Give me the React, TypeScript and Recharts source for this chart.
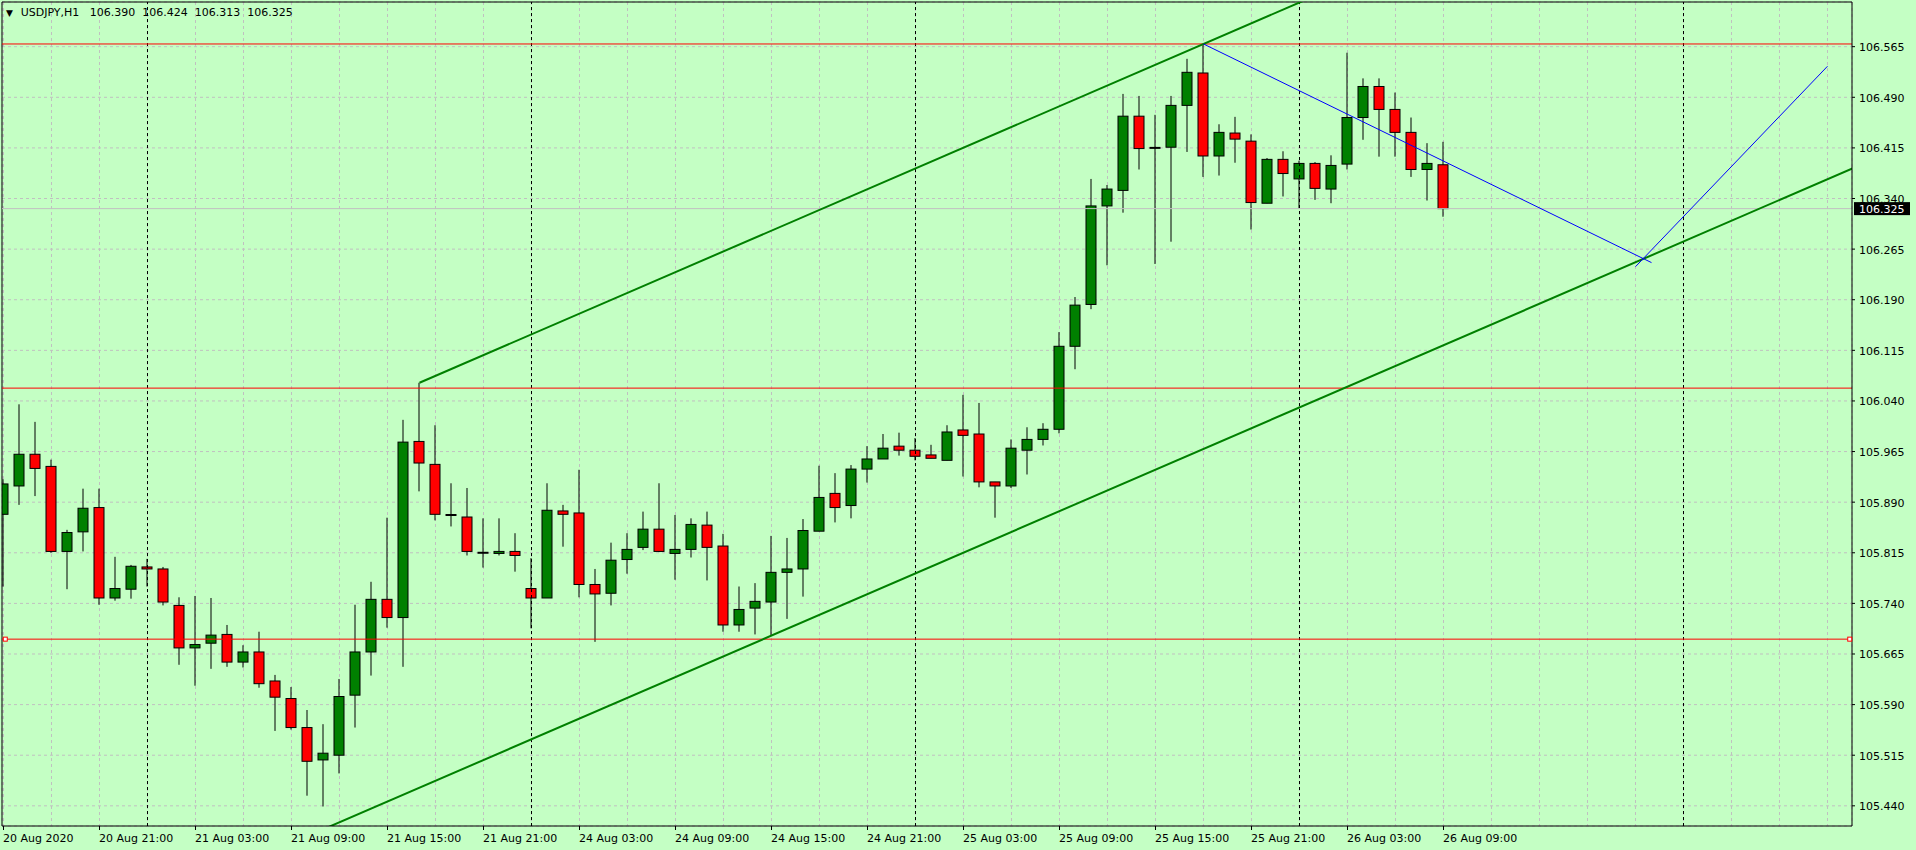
import { Bar, CartesianGrid, ComposedChart, ReferenceDot, ReferenceLine, XAxis, YAxis } from "recharts";

// USDJPY H1, bars 20 Aug 15:00 .. 26 Aug 09:00
const opens = [
  105.872, 105.914, 105.961, 105.943, 105.817, 105.846, 105.882, 105.748, 105.761, 105.794,
  105.791, 105.737, 105.674, 105.681, 105.694, 105.653, 105.668, 105.625, 105.599, 105.556,
  105.508, 105.515, 105.604, 105.668, 105.746, 105.719, 105.98, 105.946, 105.871, 105.868,
  105.815, 105.814, 105.817, 105.762, 105.748, 105.877, 105.874, 105.768, 105.755, 105.805,
  105.823, 105.85, 105.814, 105.82, 105.856, 105.825, 105.708, 105.733, 105.742, 105.786,
  105.791, 105.847, 105.903, 105.885, 105.939, 105.954, 105.973, 105.967, 105.96, 105.952,
  105.997, 105.991, 105.92, 105.914, 105.967, 105.983, 105.998, 106.121, 106.183, 106.329,
  106.352, 106.462, 106.415, 106.416, 106.478, 106.526, 106.403, 106.437, 106.425, 106.333,
  106.398, 106.369, 106.392, 106.354, 106.391, 106.46, 106.506, 106.472, 106.438, 106.383,
  106.39,
];
const highs = [
  105.924, 106.035, 106.009, 105.953, 105.849, 105.91, 105.91, 105.809, 105.797, 105.806,
  105.794, 105.749, 105.751, 105.748, 105.708, 105.678, 105.698, 105.634, 105.616, 105.582,
  105.561, 105.628, 105.738, 105.772, 105.867, 106.012, 106.067, 106.004, 105.918, 105.911,
  105.866, 105.866, 105.844, 105.807, 105.918, 105.886, 105.938, 105.791, 105.83, 105.844,
  105.876, 105.918, 105.871, 105.866, 105.876, 105.843, 105.765, 105.77, 105.84, 105.837,
  105.865, 105.944, 105.933, 105.945, 105.973, 105.991, 105.993, 105.985, 105.975, 106.004,
  106.049, 106.037, 105.92, 105.983, 106.001, 106.007, 106.142, 106.194, 106.369, 106.36,
  106.495, 106.492, 106.464, 106.492, 106.547, 106.569, 106.45, 106.461, 106.435, 106.4,
  106.41, 106.396, 106.394, 106.404, 106.556, 106.518, 106.518, 106.497, 106.46, 106.422,
  106.424,
];
const lows = [
  105.765, 105.886, 105.899, 105.815, 105.761, 105.817, 105.738, 105.744, 105.747, 105.765,
  105.737, 105.649, 105.618, 105.643, 105.646, 105.645, 105.615, 105.551, 105.553, 105.455,
  105.439, 105.488, 105.556, 105.633, 105.704, 105.646, 105.906, 105.863, 105.854, 105.811,
  105.793, 105.811, 105.787, 105.703, 105.748, 105.824, 105.749, 105.683, 105.737, 105.784,
  105.819, 105.816, 105.775, 105.808, 105.774, 105.698, 105.698, 105.694, 105.692, 105.717,
  105.75, 105.847, 105.86, 105.866, 105.919, 105.954, 105.959, 105.952, 105.955, 105.952,
  105.928, 105.912, 105.867, 105.911, 105.931, 105.974, 105.992, 106.087, 106.176, 106.241,
  106.319, 106.383, 106.243, 106.276, 106.409, 106.372, 106.374, 106.393, 106.294, 106.333,
  106.343, 106.325, 106.338, 106.333, 106.383, 106.427, 106.402, 106.402, 106.372, 106.337,
  106.313,
];
const closes = [
  105.917, 105.961, 105.94, 105.817, 105.845, 105.881, 105.748, 105.762, 105.795, 105.791,
  105.742, 105.674, 105.679, 105.693, 105.653, 105.668, 105.621, 105.601, 105.556, 105.506,
  105.518, 105.602, 105.668, 105.746, 105.719, 105.979, 105.948, 105.872, 105.871, 105.817,
  105.815, 105.817, 105.811, 105.748, 105.878, 105.872, 105.768, 105.754, 105.804, 105.82,
  105.85, 105.817, 105.82, 105.857, 105.823, 105.708, 105.731, 105.743, 105.786, 105.791,
  105.848, 105.897, 105.882, 105.939, 105.954, 105.97, 105.967, 105.958, 105.955, 105.994,
  105.989, 105.92, 105.914, 105.97, 105.983, 105.998, 106.121, 106.182, 106.329, 106.354,
  106.462, 106.414, 106.415, 106.478, 106.527, 106.403, 106.438, 106.428, 106.334, 106.398,
  106.377, 106.392, 106.355, 106.389, 106.46, 106.506, 106.472, 106.438, 106.383, 106.392,
  106.325,
];

const timeTickBars = [0, 6, 12, 18, 24, 30, 36, 42, 48, 54, 60, 66, 72, 78, 84, 90];
const timeTickLabels = [
  "20 Aug 2020", "20 Aug 21:00", "21 Aug 03:00", "21 Aug 09:00", "21 Aug 15:00", "21 Aug 21:00",
  "24 Aug 03:00", "24 Aug 09:00", "24 Aug 15:00", "24 Aug 21:00", "25 Aug 03:00", "25 Aug 09:00",
  "25 Aug 15:00", "25 Aug 21:00", "26 Aug 03:00", "26 Aug 09:00",
];
const gridBars = [
  0, 3, 6, 9, 12, 15, 18, 21, 24, 27, 30, 33, 36, 39, 42, 45, 48, 51, 54, 57,
  60, 63, 66, 69, 72, 75, 78, 81, 84, 87, 90, 93, 96, 99, 102, 105, 108, 111, 114,
];
const daySeparators = [9, 33, 57, 81, 105];
const priceTicks = [
  105.44, 105.515, 105.59, 105.665, 105.74, 105.815, 105.89, 105.965,
  106.04, 106.115, 106.19, 106.265, 106.34, 106.415, 106.49, 106.565,
];

const levelLines = [106.569, 106.059, 105.687];
const selectedLevel = 105.687;
const selectedLevelHandles = [0.11, 115.39];
const channelLines = [
  [{ x: 26, y: 106.067 }, { x: 120, y: 107.03 }],
  [{ x: -2, y: 105.18 }, { x: 120, y: 106.43 }],
];
const blueLines = [
  [{ x: 75, y: 106.569 }, { x: 103, y: 106.245 }],
  [{ x: 102, y: 106.239 }, { x: 114, y: 106.536 }],
];
const bidPrice = 106.325;
const symbolTitle = "USDJPY,H1";
const titleQuotes = ["106.390", "106.424", "106.313", "106.325"];

const X_DOMAIN: [number, number] = [-0.09375, 115.53125];
const Y_DOMAIN: [number, number] = [105.4101, 106.6312];

const BG = "#C4FFC4";
const BULL = "#008000";
const BEAR = "#FF0000";
const GRID = "#C0C0C0";
const FONT = "DejaVu Sans";

const data = opens.map((open, i) => ({ i, open, high: highs[i], low: lows[i], close: closes[i] }));

function Candle(props: any) {
  const { x, y, width, height, payload } = props;
  if (x == null || y == null || !payload) return null;
  const cx = x + width / 2;
  const { open, high, low, close } = payload;
  const span = high - low || 1;
  const yAt = (p: number) => y + ((high - p) / span) * height;
  const top = yAt(Math.max(open, close));
  const bottom = yAt(Math.min(open, close));
  const wick = <line x1={cx} x2={cx} y1={y} y2={y + height} stroke="#000" strokeWidth={1} />;
  if (open === close) {
    return (
      <g>
        {wick}
        <line x1={cx - 5.5} x2={cx + 5.5} y1={top} y2={top} stroke="#000" strokeWidth={2} />
      </g>
    );
  }
  return (
    <g>
      {wick}
      <rect
        x={cx - 5}
        y={top}
        width={10}
        height={Math.max(bottom - top, 1)}
        fill={close > open ? BULL : BEAR}
        stroke="#000"
        strokeWidth={1}
      />
    </g>
  );
}

function TimeTick({ x, y, payload }: any) {
  const k = timeTickBars.indexOf(payload.value);
  if (k < 0) return <g />;
  return (
    <g>
      <line x1={x} x2={x} y1={y} y2={y + 4} stroke="#000" />
      <text x={x - 0.5} y={y + 16} fontSize={11} fontFamily={FONT} fill="#000">
        {timeTickLabels[k]}
      </text>
    </g>
  );
}

function PriceTick({ x, y, payload }: any) {
  return (
    <text x={x} y={y + 4.5} fontSize={11} fontFamily={FONT} fill="#000" textAnchor="start">
      {payload.value.toFixed(3)}
    </text>
  );
}

function BidLabel({ viewBox }: any) {
  if (!viewBox) return null;
  const left = viewBox.x + viewBox.width + 2;
  return (
    <g>
      <rect x={left} y={viewBox.y - 6.5} width={56} height={13} fill="#000" />
      <text x={left + 5} y={viewBox.y + 4.5} fontSize={11} fontFamily={FONT} fill="#fff">
        {bidPrice.toFixed(3)}
      </text>
    </g>
  );
}

export default function App() {
  return (
    <div style={{ position: "absolute", left: 0, top: 0, width: 1916, height: 850, background: BG }}>
      <ComposedChart width={1916} height={850} data={data} margin={{ top: 2, right: 0, bottom: 0, left: 2 }}>
        <CartesianGrid stroke={GRID} strokeDasharray="3 3" />
        {daySeparators.map((b) => (
          <ReferenceLine key={`sep-${b}`} x={b} stroke="#000" strokeDasharray="3 3" ifOverflow="visible" />
        ))}
        <XAxis
          type="number"
          dataKey="i"
          domain={X_DOMAIN}
          allowDataOverflow
          ticks={gridBars}
          interval={0}
          height={24}
          tickSize={0}
          tickMargin={0}
          tickLine={false}
          axisLine={{ stroke: "#000" }}
          tick={<TimeTick />}
        />
        <YAxis
          orientation="right"
          type="number"
          domain={Y_DOMAIN}
          allowDataOverflow
          ticks={priceTicks}
          interval={0}
          width={64}
          tickSize={3}
          tickMargin={4}
          tickLine={{ stroke: "#000" }}
          axisLine={{ stroke: "#000" }}
          tick={<PriceTick />}
        />
        <ReferenceLine x={X_DOMAIN[0]} stroke="#000" ifOverflow="visible" />
        <ReferenceLine y={Y_DOMAIN[1]} stroke="#000" ifOverflow="visible" />
        <ReferenceLine y={bidPrice} stroke={GRID} ifOverflow="visible" />
        {levelLines.map((p) => (
          <ReferenceLine key={`lvl-${p}`} y={p} stroke={BEAR} ifOverflow="visible" />
        ))}
        <Bar dataKey={(d: any) => [d.low, d.high]} barSize={11} shape={Candle} isAnimationActive={false} />
        {channelLines.map((seg, k) => (
          <ReferenceLine key={`ch-${k}`} segment={seg} stroke={BULL} strokeWidth={2} ifOverflow="hidden" />
        ))}
        {blueLines.map((seg, k) => (
          <ReferenceLine key={`bl-${k}`} segment={seg} stroke="#0000FF" strokeWidth={1} ifOverflow="hidden" />
        ))}
        {selectedLevelHandles.map((b) => (
          <ReferenceDot
            key={`h-${b}`}
            x={b}
            y={selectedLevel}
            ifOverflow="visible"
            shape={(p: any) => (
              <rect x={p.cx - 2} y={p.cy - 2} width={4} height={4} fill="#fff" stroke={BEAR} strokeWidth={1} />
            )}
          />
        ))}
        <ReferenceLine y={bidPrice} stroke="none" ifOverflow="visible" label={(p: any) => <BidLabel {...p} />} />
      </ComposedChart>
      <div
        style={{
          position: "absolute",
          left: 6,
          top: 6,
          fontFamily: FONT,
          fontSize: 11,
          lineHeight: "13px",
          whiteSpace: "pre",
          color: "#000",
        }}
      >
        <span style={{ fontSize: 9, display: "inline-block", width: 14.7 }}>▼</span>
        {`${symbolTitle}   ${titleQuotes.join("  ")}`}
      </div>
    </div>
  );
}
